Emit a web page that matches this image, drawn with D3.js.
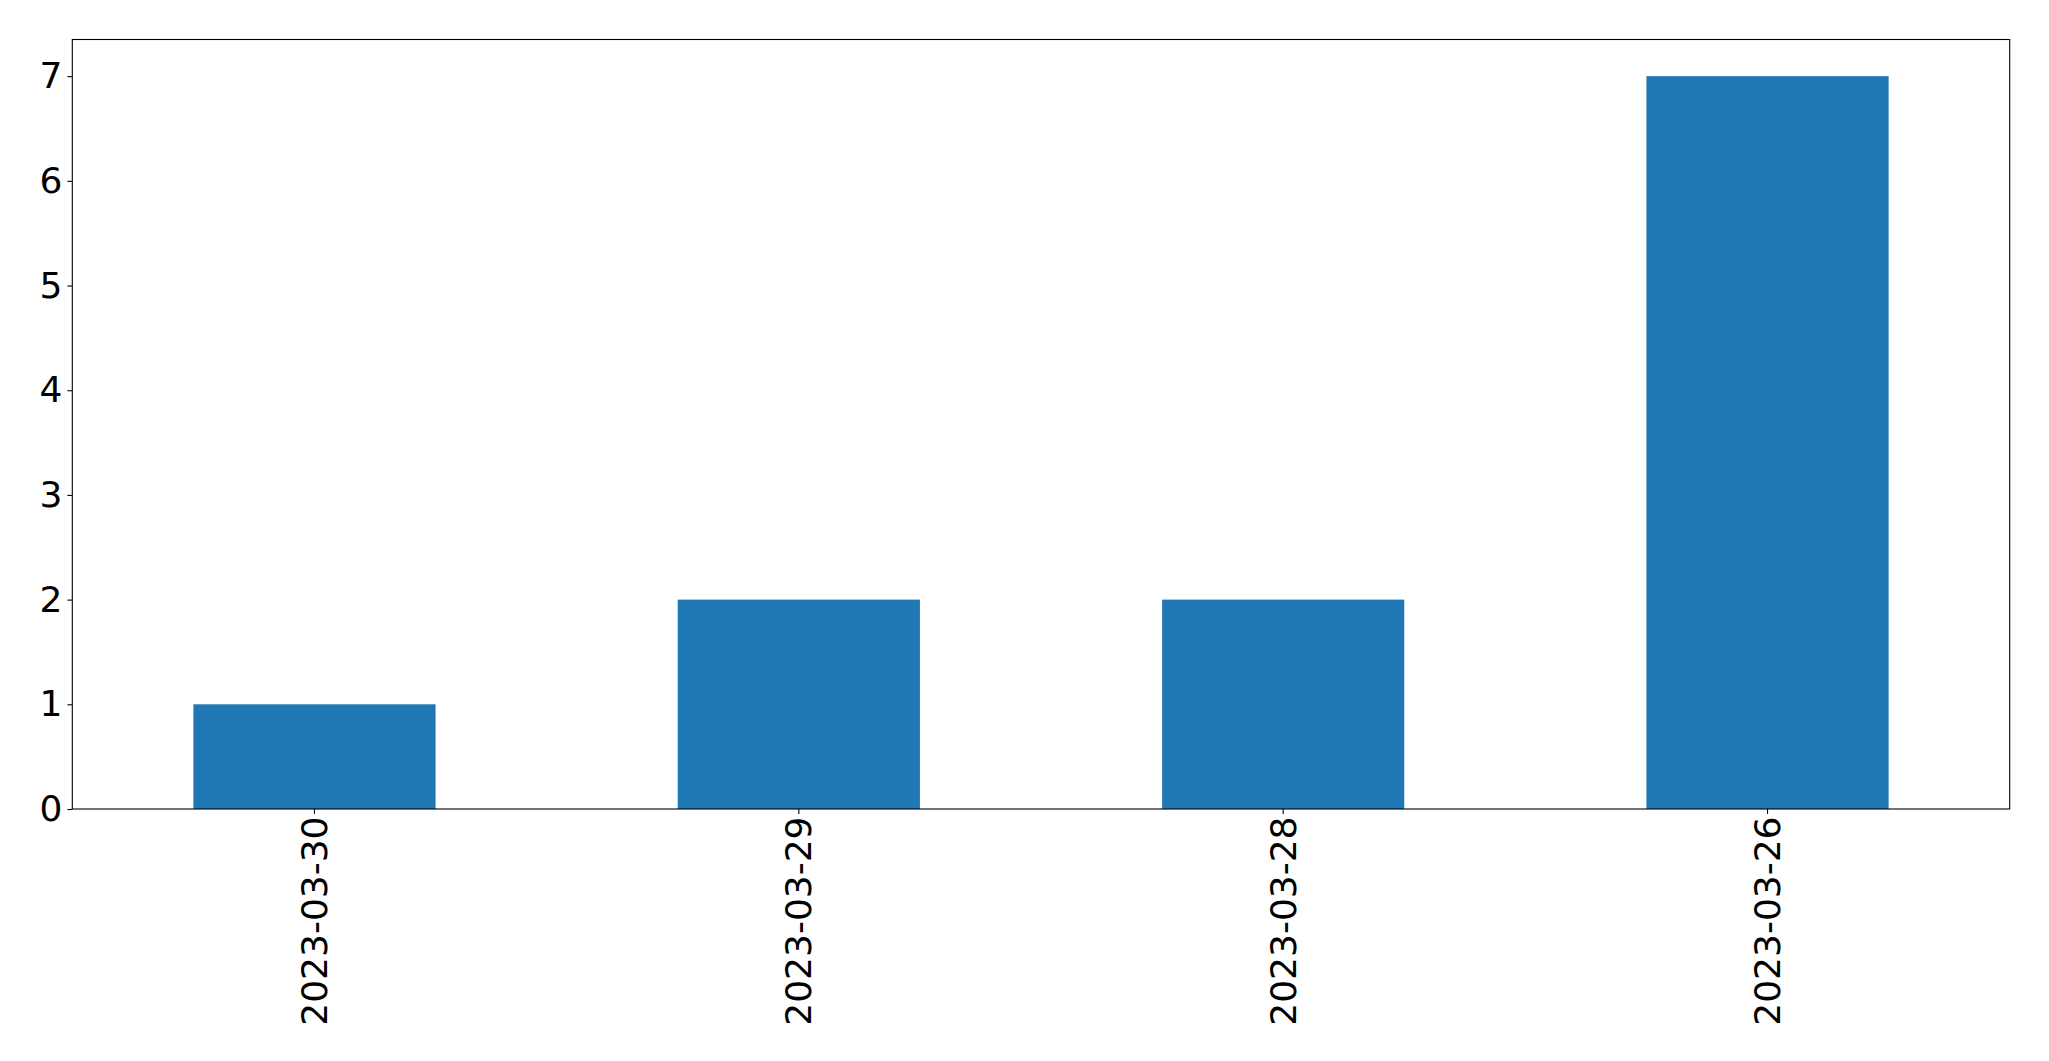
<!DOCTYPE html>
<html><head><meta charset="utf-8">
<script src="https://cdn.jsdelivr.net/npm/d3@7"></script>
<style>html,body{margin:0;padding:0;background:#fff;}</style>
</head><body>
<script>
const categories = ["2023-03-30", "2023-03-29", "2023-03-28", "2023-03-26"];
const values = [1, 2, 2, 7];
const yTicks = [0, 1, 2, 3, 4, 5, 6, 7];

const W = 2049, H = 1061;
const m = {left: 72.3, top: 39.5, right: 2049 - 2009.7, bottom: 1061 - 809};
const svg = d3.select("body").append("svg").attr("width", W).attr("height", H);
const iw = W - m.left - m.right, ih = H - m.top - m.bottom;
const g = svg.append("g").attr("transform", `translate(${m.left},${m.top})`);

const x = d3.scaleBand().domain(categories).range([0, iw]).paddingInner(0.5).paddingOuter(0.25);
const y = d3.scaleLinear().domain([0, 7.35]).range([ih, 0]);

g.selectAll("rect.bar").data(values).join("rect")
  .attr("class", "bar")
  .attr("x", (d, i) => x(categories[i]))
  .attr("width", x.bandwidth())
  .attr("y", d => y(d))
  .attr("height", d => y(0) - y(d))
  .attr("fill", "#1f77b4");

const font = "'DejaVu Sans', sans-serif";
const fs = 36;

const ya = g.append("g").call(d3.axisLeft(y).tickValues(yTicks).tickFormat(d3.format("d")).tickSize(4.9).tickPadding(4.9));
ya.select(".domain").remove();
ya.selectAll("line").attr("stroke", "#000").attr("stroke-width", 1.1);
ya.selectAll("text").attr("font-family", font).attr("font-size", fs).attr("fill", "#000");

const xa = g.append("g").attr("transform", `translate(0,${ih})`)
  .call(d3.axisBottom(x).tickSize(4.9).tickPadding(0));
xa.select(".domain").remove();
xa.selectAll("line").attr("stroke", "#000").attr("stroke-width", 1.1);
xa.selectAll("text")
  .attr("font-family", font).attr("font-size", fs).attr("fill", "#000")
  .attr("text-anchor", "end")
  .attr("dy", "0.35em")
  .attr("transform", "translate(0,7.5) rotate(-90)")
  .attr("x", 0).attr("y", 0);

g.append("rect").attr("x", 0).attr("y", 0).attr("width", iw).attr("height", ih)
  .attr("fill", "none").attr("stroke", "#000").attr("stroke-width", 1.1);
</script>
</body></html>
